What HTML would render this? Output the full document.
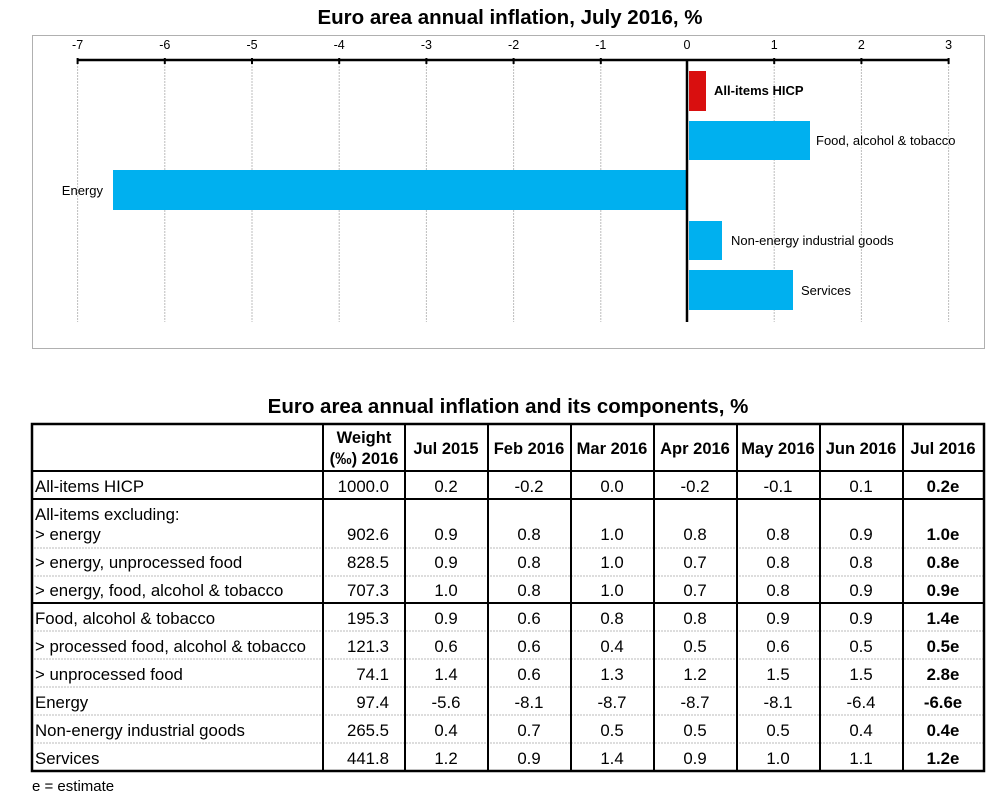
<!DOCTYPE html>
<html><head><meta charset="utf-8"><style>
html,body{margin:0;padding:0;background:#fff;}
svg{display:block;font-family:"Liberation Sans",Arial,sans-serif;}
</style></head><body>
<svg width="1000" height="800" viewBox="0 0 1000 800" xmlns="http://www.w3.org/2000/svg">
<text x="510" y="24" font-size="20.5" font-weight="bold" text-anchor="middle">Euro area annual inflation, July 2016, %</text>
<rect x="32.5" y="35.5" width="952" height="313" fill="none" stroke="#b0b0b0" stroke-width="1"/>
<g stroke="#bdbdbd" stroke-width="1" stroke-dasharray="2,1">
<line x1="77.6" y1="60" x2="77.6" y2="322"/>
<line x1="164.8" y1="60" x2="164.8" y2="322"/>
<line x1="252" y1="60" x2="252" y2="322"/>
<line x1="339.2" y1="60" x2="339.2" y2="322"/>
<line x1="426.4" y1="60" x2="426.4" y2="322"/>
<line x1="513.6" y1="60" x2="513.6" y2="322"/>
<line x1="600.8" y1="60" x2="600.8" y2="322"/>
<line x1="774.2" y1="60" x2="774.2" y2="322"/>
<line x1="861.4" y1="60" x2="861.4" y2="322"/>
<line x1="948.6" y1="60" x2="948.6" y2="322"/>
</g>
<g font-size="12.5" text-anchor="middle">
<text x="77.6" y="49">-7</text><text x="164.8" y="49">-6</text><text x="252" y="49">-5</text>
<text x="339.2" y="49">-4</text><text x="426.4" y="49">-3</text><text x="513.6" y="49">-2</text>
<text x="600.8" y="49">-1</text><text x="687" y="49">0</text><text x="774.2" y="49">1</text>
<text x="861.4" y="49">2</text><text x="948.6" y="49">3</text>
</g>
<rect x="689" y="71" width="17" height="40" fill="#d90f0f"/>
<rect x="689" y="121" width="121" height="39" fill="#00b0ef"/>
<rect x="113" y="170" width="574" height="40" fill="#00b0ef"/>
<rect x="689" y="221" width="33" height="39" fill="#00b0ef"/>
<rect x="689" y="270" width="104" height="40" fill="#00b0ef"/>
<line x1="77" y1="60" x2="949" y2="60" stroke="#000" stroke-width="2.5"/>
<g stroke="#000" stroke-width="2">
<line x1="77.6" y1="58" x2="77.6" y2="64"/><line x1="164.8" y1="58" x2="164.8" y2="64"/>
<line x1="252" y1="58" x2="252" y2="64"/><line x1="339.2" y1="58" x2="339.2" y2="64"/>
<line x1="426.4" y1="58" x2="426.4" y2="64"/><line x1="513.6" y1="58" x2="513.6" y2="64"/>
<line x1="600.8" y1="58" x2="600.8" y2="64"/><line x1="774.2" y1="58" x2="774.2" y2="64"/>
<line x1="861.4" y1="58" x2="861.4" y2="64"/><line x1="948.6" y1="58" x2="948.6" y2="64"/>
</g>
<line x1="687" y1="60" x2="687" y2="322" stroke="#000" stroke-width="2.5"/>
<g font-size="13">
<text x="714" y="95" font-weight="bold">All-items HICP</text>
<text x="816" y="145">Food, alcohol &amp; tobacco</text>
<text x="103" y="195" text-anchor="end">Energy</text>
<text x="731" y="245">Non-energy industrial goods</text>
<text x="801" y="295">Services</text>
</g>

<text x="508" y="413" font-size="20.5" font-weight="bold" text-anchor="middle">Euro area annual inflation and its components, %</text>
<g stroke="#bbb" stroke-width="1" stroke-dasharray="2,1">
<line x1="34" y1="548" x2="983" y2="548"/><line x1="34" y1="576" x2="983" y2="576"/>
<line x1="34" y1="631" x2="983" y2="631"/><line x1="34" y1="659" x2="983" y2="659"/>
<line x1="34" y1="687" x2="983" y2="687"/><line x1="34" y1="715" x2="983" y2="715"/>
<line x1="34" y1="743" x2="983" y2="743"/>
</g>
<g stroke="#000" stroke-width="2" fill="none">
<rect x="32" y="424" width="952" height="347" stroke-width="2.5"/>
<line x1="32" y1="471" x2="984" y2="471"/>
<line x1="32" y1="499" x2="984" y2="499"/>
<line x1="32" y1="603" x2="984" y2="603"/>
<line x1="323" y1="424" x2="323" y2="771"/><line x1="405" y1="424" x2="405" y2="771"/>
<line x1="488" y1="424" x2="488" y2="771"/><line x1="571" y1="424" x2="571" y2="771"/>
<line x1="654" y1="424" x2="654" y2="771"/><line x1="737" y1="424" x2="737" y2="771"/>
<line x1="820" y1="424" x2="820" y2="771"/><line x1="903" y1="424" x2="903" y2="771"/>
</g>
<g font-size="16.5" font-weight="bold" text-anchor="middle">
<text x="364" y="443">Weight</text><text x="364" y="464">(‰) 2016</text>
<text x="446" y="454">Jul 2015</text><text x="529" y="454">Feb 2016</text>
<text x="612" y="454">Mar 2016</text><text x="695" y="454">Apr 2016</text>
<text x="778" y="454">May 2016</text><text x="861" y="454">Jun 2016</text>
<text x="943" y="454">Jul 2016</text>
</g>
<g font-size="16.8">
<text x="35" y="492">All-items HICP</text>
<text x="35" y="520">All-items excluding:</text>
<text x="35" y="540">&gt; energy</text>
<text x="35" y="568">&gt; energy, unprocessed food</text>
<text x="35" y="596">&gt; energy, food, alcohol &amp; tobacco</text>
<text x="35" y="624">Food, alcohol &amp; tobacco</text>
<text x="35" y="652">&gt; processed food, alcohol &amp; tobacco</text>
<text x="35" y="680">&gt; unprocessed food</text>
<text x="35" y="708">Energy</text>
<text x="35" y="736">Non-energy industrial goods</text>
<text x="35" y="764">Services</text>
</g>
<g font-size="16.8" text-anchor="end">
<text x="389" y="492">1000.0</text><text x="389" y="540">902.6</text><text x="389" y="568">828.5</text>
<text x="389" y="596">707.3</text><text x="389" y="624">195.3</text><text x="389" y="652">121.3</text>
<text x="389" y="680">74.1</text><text x="389" y="708">97.4</text><text x="389" y="736">265.5</text>
<text x="389" y="764">441.8</text>
</g>
<g font-size="16.8" text-anchor="middle">
<text x="446" y="492">0.2</text><text x="529" y="492">-0.2</text><text x="612" y="492">0.0</text><text x="695" y="492">-0.2</text><text x="778" y="492">-0.1</text><text x="861" y="492">0.1</text>
<text x="446" y="540">0.9</text><text x="529" y="540">0.8</text><text x="612" y="540">1.0</text><text x="695" y="540">0.8</text><text x="778" y="540">0.8</text><text x="861" y="540">0.9</text>
<text x="446" y="568">0.9</text><text x="529" y="568">0.8</text><text x="612" y="568">1.0</text><text x="695" y="568">0.7</text><text x="778" y="568">0.8</text><text x="861" y="568">0.8</text>
<text x="446" y="596">1.0</text><text x="529" y="596">0.8</text><text x="612" y="596">1.0</text><text x="695" y="596">0.7</text><text x="778" y="596">0.8</text><text x="861" y="596">0.9</text>
<text x="446" y="624">0.9</text><text x="529" y="624">0.6</text><text x="612" y="624">0.8</text><text x="695" y="624">0.8</text><text x="778" y="624">0.9</text><text x="861" y="624">0.9</text>
<text x="446" y="652">0.6</text><text x="529" y="652">0.6</text><text x="612" y="652">0.4</text><text x="695" y="652">0.5</text><text x="778" y="652">0.6</text><text x="861" y="652">0.5</text>
<text x="446" y="680">1.4</text><text x="529" y="680">0.6</text><text x="612" y="680">1.3</text><text x="695" y="680">1.2</text><text x="778" y="680">1.5</text><text x="861" y="680">1.5</text>
<text x="446" y="708">-5.6</text><text x="529" y="708">-8.1</text><text x="612" y="708">-8.7</text><text x="695" y="708">-8.7</text><text x="778" y="708">-8.1</text><text x="861" y="708">-6.4</text>
<text x="446" y="736">0.4</text><text x="529" y="736">0.7</text><text x="612" y="736">0.5</text><text x="695" y="736">0.5</text><text x="778" y="736">0.5</text><text x="861" y="736">0.4</text>
<text x="446" y="764">1.2</text><text x="529" y="764">0.9</text><text x="612" y="764">1.4</text><text x="695" y="764">0.9</text><text x="778" y="764">1.0</text><text x="861" y="764">1.1</text>
</g>
<g font-size="16.8" font-weight="bold" text-anchor="middle">
<text x="943" y="492">0.2e</text><text x="943" y="540">1.0e</text><text x="943" y="568">0.8e</text>
<text x="943" y="596">0.9e</text><text x="943" y="624">1.4e</text><text x="943" y="652">0.5e</text>
<text x="943" y="680">2.8e</text><text x="943" y="708">-6.6e</text><text x="943" y="736">0.4e</text>
<text x="943" y="764">1.2e</text>
</g>
<text x="32" y="791" font-size="15">e = estimate</text>
</svg>
</body></html>
